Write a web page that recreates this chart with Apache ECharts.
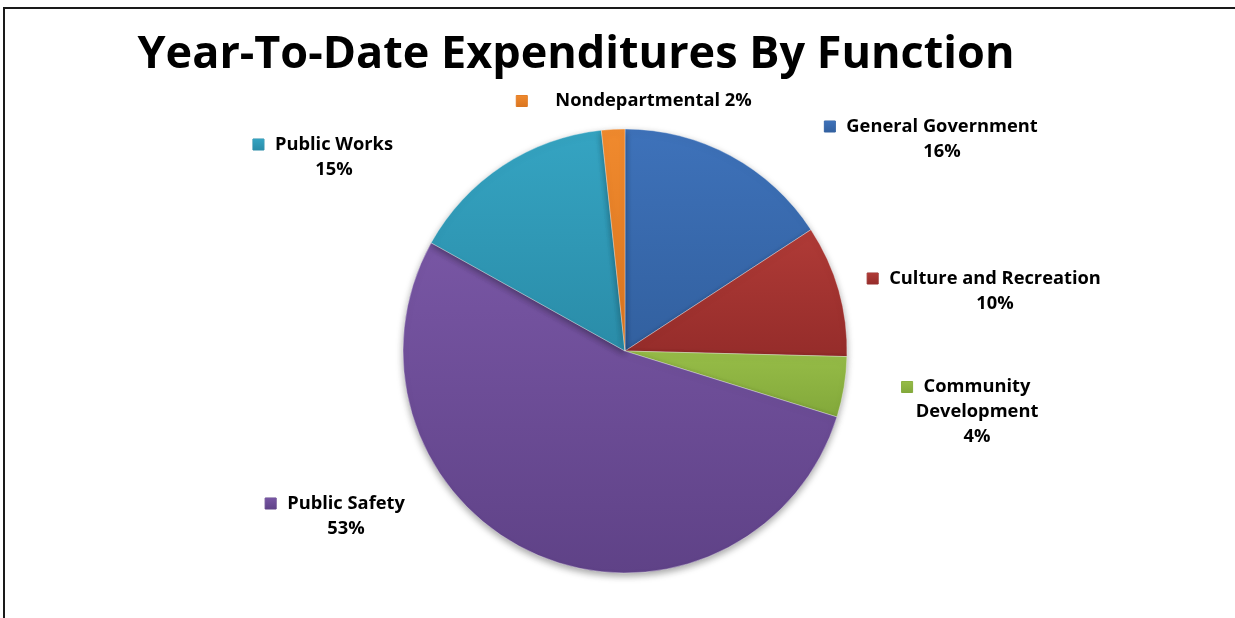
<!DOCTYPE html>
<html>
<head>
<meta charset="utf-8">
<script src="https://cdn.jsdelivr.net/npm/echarts@6/dist/echarts.min.js"></script>
<style>
html,body{margin:0;padding:0;background:#fff;}
#chart{width:1235px;height:618px;}
</style>
</head>
<body>
<div id="chart"></div>
<script>
// ---- data ----
const titleText = 'Year-To-Date Expenditures By Function';
const categories = ['General Government', 'Culture and Recreation', 'Community Development', 'Public Safety', 'Public Works', 'Nondepartmental'];
const values = [15.8, 9.6, 4.4, 53.3, 15.2, 1.7];

// ---- styles ----
const colorsTop = ['#3E72BA', '#B03B37', '#97BD48', '#7856A4', '#35A4C2', '#F08A2E'];
const colorsBottom = ['#32609F', '#952C2A', '#82A83A', '#5F4287', '#2A8CA8', '#DA7520'];
const markerColors = ['#3A68AE', '#A8332F', '#8CB43D', '#6E4E97', '#2F9CBA', '#E47F25'];
// label block centres (layout only)
const labelPos = [
  [931, 139],
  [984, 291],
  [966, 412],
  [335, 516],
  [323, 157],
  [634, 101]
];

const FONT = '"Open Sans"';

function fmt(p) {
  const pct = Math.round(p.percent) + '%';
  const i = p.dataIndex;
  const m = '{m' + i + '| }';
  if (i === 5) return m + '{g2| }{t|' + p.name + ' ' + pct + '}';
  if (i === 2) return m + '{g| }{t|Community}\n{s| }{t|Development}\n{s| }{t|' + pct + '}';
  return m + '{g| }{t|' + p.name + '}\n{s| }{t|' + pct + '}';
}

const rich = {
  t: {fontFamily: FONT, fontWeight: 'bold', fontSize: 18.3, color: '#000', lineHeight: 25},
  g: {width: 11, lineHeight: 25},
  g2: {width: 28, lineHeight: 25},
  s: {width: 22, lineHeight: 25}
};
markerColors.forEach((c, i) => {
  rich['m' + i] = {
    width: 11, height: 11, lineHeight: 25,
    backgroundColor: {
      type: 'linear', x: 0, y: 0, x2: 0, y2: 1,
      colorStops: [{offset: 0, color: colorsTop[i]}, {offset: 1, color: colorsBottom[i]}]
    },
    borderColor: colorsBottom[i], borderWidth: 0.5
  };
});

const data = categories.map((name, i) => ({
  name: name,
  value: values[i],
  itemStyle: {
    color: {
      type: 'linear', x: 0, y: 0, x2: 0, y2: 1,
      colorStops: [{offset: 0, color: colorsTop[i]}, {offset: 1, color: colorsBottom[i]}]
    }
  }
}));

const chart = echarts.init(document.getElementById('chart'), null, {renderer: 'canvas'});
chart.setOption({
  animation: false,
  backgroundColor: '#fff',
  title: {
    text: titleText,
    left: 571,
    top: 28,
    textAlign: 'center',
    textStyle: {fontFamily: FONT, fontWeight: 'bold', fontSize: 45, color: '#000'}
  },
  graphic: [{
    type: 'rect',
    shape: {x: 4, y: 8, width: 1400, height: 800},
    style: {fill: 'none', stroke: '#1a1a1a', lineWidth: 2},
    silent: true,
    z: 0
  }],
  series: [{
    type: 'pie',
    center: [625, 351],
    radius: [0, 222],
    startAngle: 90,
    clockwise: true,
    avoidLabelOverlap: false,
    data: data,
    itemStyle: {
      borderColor: 'rgba(255,255,255,0.35)',
      borderWidth: 1,
      shadowColor: 'rgba(0,0,0,0.35)',
      shadowBlur: 7,
      shadowOffsetY: 3
    },
    label: {
      show: true,
      formatter: fmt,
      rich: rich,
      align: 'center'
    },
    labelLine: {show: false},
    labelLayout: function (params) {
      const p = labelPos[params.dataIndex];
      return {x: p[0], y: p[1], align: 'center', verticalAlign: 'middle'};
    },
    emphasis: {disabled: true}
  }]
});
</script>
</body>
</html>
